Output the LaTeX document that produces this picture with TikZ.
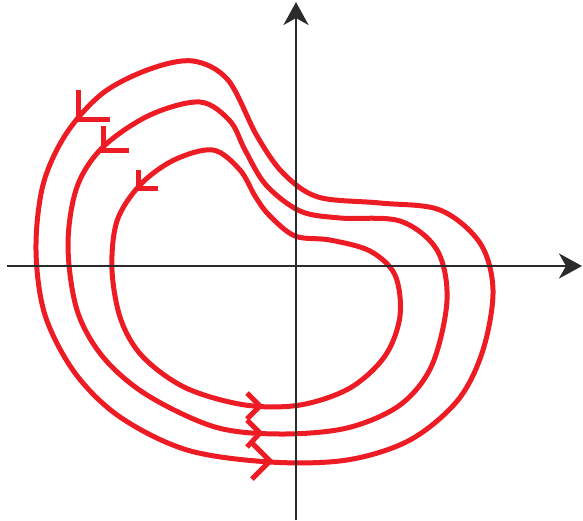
\documentclass[tikz,border=0pt]{standalone}
\usetikzlibrary{arrows.meta}
\definecolor{curvered}{HTML}{ED1C24}
\definecolor{axisgray}{HTML}{2B2B2B}
\begin{document}
\begin{tikzpicture}[x=1pt,y=-1pt,
  orbit/.style={curvered, line width=5pt},
  chevron/.style={curvered, line width=5pt, line cap=butt, line join=miter},
  axisline/.style={axisgray, line width=2.6pt, -{Stealth[length=23pt,width=25pt,inset=7pt]}}]
\useasboundingbox (0,0) rectangle (583,520);
% outer orbit
\draw[orbit] plot[smooth cycle, tension=0.55] coordinates {
 (228,80) (193,61) (150,69) (103,93) (66,134) (43,185) (36,250) (45,315) (75,373)
 (120,417) (187,450) (270,462) (347,460) (410,440) (458,400) (483,350) (493,290)
 (480,243) (440,210) (380,203) (318,197) (283,173) (257,136)};
% middle orbit
\draw[orbit] plot[smooth cycle, tension=0.55] coordinates {
 (200,102) (150,115) (103,147) (77,187) (68,245) (77,310) (103,357) (147,395)
 (215,427) (280,434) (347,428) (400,405) (432,365) (447,300) (437,250) (400,221)
 (340,218) (300,211) (266,185) (245,150) (230,121)};
% inner orbit
\draw[orbit] plot[smooth cycle, tension=0.55] coordinates {
 (213,150) (174,160) (140,185) (117,221) (112,270) (121,320) (143,357) (186,388)
 (245,405) (300,405) (350,388) (385,356) (400,316) (395,275) (370,251) (330,240)
 (295,236) (269,215) (255,196) (240,170)};
% direction chevrons (top left)
\draw[chevron] (78,90) -- (78,119) -- (110,119);
\draw[chevron] (103,126) -- (103,150) -- (129,150);
\draw[chevron] (138,170) -- (138,188) -- (158,188);
% direction chevrons (bottom)
\draw[chevron] (247,393) -- (260,406) -- (247,419);
\draw[chevron] (247,420) -- (260,433) -- (247,447);
\draw[chevron] (252,443) -- (270,461) -- (252,479);
% axes
\coordinate (xs) at (7,266);
\coordinate (xe) at (582,266);
\coordinate (ys) at (296,520);
\coordinate (ye) at (296,2);
\draw[axisline] (xs) -- (xe);
\draw[axisline] (ys) -- (ye);
\end{tikzpicture}
\end{document}
